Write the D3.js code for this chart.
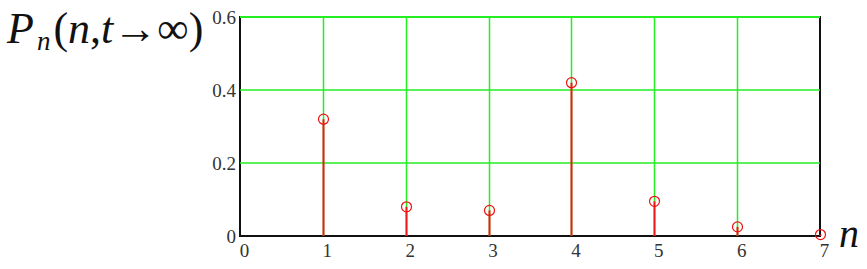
<!DOCTYPE html>
<html>
<head>
<meta charset="utf-8">
<script src="https://cdn.jsdelivr.net/npm/d3@7"></script>
</head>
<body style="margin:0; background:#fff">
<div id="chart"></div>
<script>
// stationary distribution P_n(n, t -> inf)
var nValues = [1, 2, 3, 4, 5, 6, 7];
var pValues = [0.32, 0.08, 0.07, 0.42, 0.095, 0.025, 0.004];
var xTicks = [0, 1, 2, 3, 4, 5, 6, 7];
var yTicks = [0, 0.2, 0.4, 0.6];
var yTickLabels = ["0", "0.2", "0.4", "0.6"];

function start(){
    var width = 867, height = 269;
    var margin = {top: 17, right: 47, bottom: 33, left: 240};

    var svg = d3.select("#chart").append("svg")
        .attr("width", width)
        .attr("height", height)
        .style("display", "block");

    var x = d3.scaleLinear()
        .domain([0, 7])
        .range([margin.left, width - margin.right]);
    var y = d3.scaleLinear()
        .domain([0, 0.6])
        .range([height - margin.bottom, margin.top]);
    var px = d => Math.round(x(d)) + 0.5;

    // frame (black) under the grid
    svg.append("rect")
        .attr("x", x(0))
        .attr("y", y(0.6))
        .attr("width", x(7) - x(0))
        .attr("height", y(0) - y(0.6))
        .attr("fill", "none")
        .attr("stroke", "#111")
        .attr("stroke-width", 2);

    // green grid
    svg.append("g")
        .selectAll("line")
        .data(xTicks.filter(d => d > 0 && d < 7))
        .enter().append("line")
        .attr("x1", px).attr("x2", px)
        .attr("y1", y(0)).attr("y2", y(0.6))
        .attr("stroke", "#22ee22")
        .attr("stroke-width", 1.5);
    svg.append("g")
        .selectAll("line")
        .data(yTicks.filter(d => d > 0))
        .enter().append("line")
        .attr("x1", x(0)).attr("x2", x(7))
        .attr("y1", d => y(d)).attr("y2", d => y(d))
        .attr("stroke", "#22ee22")
        .attr("stroke-width", d => d == 0.6 ? 2 : 1.5);

    // stems
    svg.append("g")
        .selectAll("line")
        .data(nValues)
        .enter().append("line")
        .attr("x1", px).attr("x2", px)
        .attr("y1", y(0))
        .attr("y2", (d, i) => y(pValues[i]))
        .attr("stroke", "#f01818")
        .attr("stroke-width", 2);

    // circles
    svg.append("g")
        .selectAll("circle")
        .data(nValues)
        .enter().append("circle")
        .attr("cx", px)
        .attr("cy", (d, i) => y(pValues[i]))
        .attr("r", 5)
        .attr("fill", "none")
        .attr("stroke", "#ee1111")
        .attr("stroke-width", 1.2);

    // axis labels via d3 axes, lines hidden
    var yAxis = svg.append("g")
        .attr("transform", "translate(" + (x(0) - 4) + ",0)")
        .call(d3.axisLeft(y).tickValues(yTicks).tickSize(0)
            .tickFormat((d, i) => yTickLabels[i]));
    yAxis.attr("font-family", "Liberation Serif").attr("font-size", 19);
    yAxis.select(".domain").remove();
    yAxis.selectAll("text")
        .attr("fill", "#333")
        .attr("x", 0);

    var xAxis = svg.append("g")
        .attr("transform", "translate(0," + (y(0) + 12) + ")")
        .call(d3.axisBottom(x).tickValues(xTicks).tickSize(0)
            .tickFormat(d3.format("d")));
    xAxis.attr("font-family", "Liberation Serif").attr("font-size", 19);
    xAxis.select(".domain").remove();
    xAxis.selectAll("text")
        .attr("fill", "#333")
        .attr("dx", 4)
        .attr("dy", "0.3em");

    // titles
    var title = svg.append("text")
        .attr("x", 7)
        .attr("y", 43)
        .attr("font-family", "Liberation Serif")
        .attr("font-size", 44)
        .attr("fill", "#111");
    title.append("tspan").attr("font-style", "italic").text("P");
    title.append("tspan").attr("font-style", "italic").attr("font-size", 27)
        .attr("dy", 7).attr("dx", 3).text("n");
    title.append("tspan").attr("dy", -7).attr("dx", 3).text("(");
    title.append("tspan").attr("font-style", "italic").text("n");
    title.append("tspan").text(",");
    title.append("tspan").attr("font-style", "italic").text("t");
    title.append("tspan").text("\u2192\u221e)");

    svg.append("text")
        .attr("x", 839)
        .attr("y", 247)
        .attr("font-family", "Liberation Serif")
        .attr("font-size", 40)
        .attr("font-style", "italic")
        .attr("fill", "#111")
        .text("n");
}

start()
</script>
</body>
</html>
